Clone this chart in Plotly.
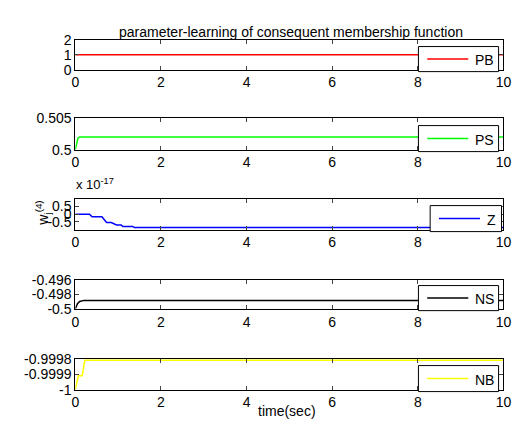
import plotly.graph_objects as go

# Consequent weights w_j^(4) for the five fuzzy terms over the learning run
t_pb = [0, 10]
w_pb = [1, 1]

t_ps = [0, 0.03, 0.06, 0.1, 10]
w_ps = [0.5, 0.5012, 0.5018, 0.502, 0.502]

# Z weight, in units of 1e-17
t_z = [0, 0.33, 0.39, 0.62, 0.73, 0.84, 0.96, 1.07, 1.11, 1.34, 1.38, 10]
w_z_e17 = [0, 0, -0.17, -0.17, -0.54, -0.54, -0.69, -0.69, -0.79, -0.79, -0.86, -0.86]

t_ns = [0, 0.05, 0.1, 0.2, 10]
w_ns = [-0.5, -0.4993, -0.4990, -0.49885, -0.49885]

t_nb = [0, 0.03, 0.07, 0.16, 0.22, 10]
w_nb = [-1, -0.99996, -0.99991, -0.99991, -0.99981, -0.99981]

names = ["PB", "PS", "Z", "NS", "NB"]
colors = ["#ff0000", "#00ff00", "#0000ff", "#000000", "#ffff00"]
series = [(t_pb, w_pb), (t_ps, w_ps), (t_z, w_z_e17), (t_ns, w_ns), (t_nb, w_nb)]

x_ticks = [0, 2, 4, 6, 8, 10]
y_ranges = [[0, 2], [0.5, 0.505], [-1, 1], [-0.5, -0.496], [-1, -0.9998]]
y_tickvals = [[0, 1, 2], [0.5, 0.505], [-0.5, 0, 0.5], [-0.5, -0.498, -0.496],
              [-1, -0.9999, -0.9998]]
y_ticktext = [["0", "1", "2"], ["0.5", "0.505"], ["-0.5", "0", "0.5"],
              ["-0.5", "-0.498", "-0.496"], ["-1", "-0.9999", "-0.9998"]]

W, H = 532, 442
# panel extents in pixels (top, bottom)
panels = [(33, 64), (114, 147), (198, 230), (282, 312), (364, 396)]
# legend boxes in pixels (left, top, right, bottom)
legend_boxes = [(424, 40, 506, 66), (424, 122, 506, 149), (436, 205, 509, 232),
                (424, 288, 506, 314), (424, 371, 506, 398)]
x_left, x_right = 73, 511

FONT = "Liberation Sans, Arial, sans-serif"


def px(x):
    return x / W


def py(y):
    return 1 - y / H


fig = go.Figure()
layout = dict(
    width=W, height=H,
    margin=dict(l=0, r=0, t=0, b=0),
    paper_bgcolor="white", plot_bgcolor="white",
    font=dict(family=FONT, size=14, color="black"),
    showlegend=False,
)
shapes = []
annotations = []

for i, ((tx, wy), name, col) in enumerate(zip(series, names, colors)):
    k = "" if i == 0 else str(i + 1)
    fig.add_trace(go.Scatter(
        x=tx, y=wy, mode="lines", name=name,
        line=dict(color=col, width=1.5),
        xaxis=f"x{k}", yaxis=f"y{k}",
    ))
    top, bot = panels[i]
    layout[f"xaxis{k}"] = dict(
        domain=[px(x_left), px(x_right)], anchor=f"y{k}",
        range=[0, 10], tickvals=x_ticks, ticks="inside", ticklen=4,
        showline=True, linecolor="black", linewidth=1, mirror="allticks",
        showgrid=False, zeroline=False, tickfont=dict(size=14),
    )
    layout[f"yaxis{k}"] = dict(
        domain=[py(bot), py(top)], anchor=f"x{k}",
        range=y_ranges[i], tickvals=y_tickvals[i], ticktext=y_ticktext[i],
        ticks="inside", ticklen=4,
        showline=True, linecolor="black", linewidth=1, mirror="allticks",
        showgrid=False, zeroline=False, tickfont=dict(size=14),
    )
    # per-panel legend: framed box, line sample and label
    l, t, r, b = legend_boxes[i]
    ym = (t + b) / 2
    shapes.append(dict(type="rect", xref="paper", yref="paper",
                       x0=px(l), x1=px(r), y0=py(b), y1=py(t),
                       fillcolor="white", line=dict(color="black", width=1),
                       layer="above"))
    shapes.append(dict(type="line", xref="paper", yref="paper",
                       x0=px(l + 9), x1=px(l + 51), y0=py(ym), y1=py(ym),
                       line=dict(color=col, width=1.5), layer="above"))
    annotations.append(dict(text=name, x=px(l + 56), y=py(ym + 1),
                            xref="paper", yref="paper", xanchor="left",
                            yanchor="middle", showarrow=False,
                            font=dict(size=14)))

annotations += [
    dict(text="parameter-learning of consequent membership function",
         x=px(294), y=py(15), xref="paper", yref="paper",
         showarrow=False, font=dict(size=14)),
    dict(text="time(sec)", x=px(290), y=py(428), xref="paper", yref="paper",
         showarrow=False, font=dict(size=14)),
    dict(text="x 10<sup>-17</sup>", x=px(72), y=py(183), xref="paper",
         yref="paper", xanchor="left", showarrow=False, font=dict(size=13)),
    dict(text="w<sub>j</sub><sup>(4)</sup>", x=px(28), y=py(213),
         xref="paper", yref="paper", textangle=-90, showarrow=False,
         font=dict(size=14)),
]

layout["shapes"] = shapes
layout["annotations"] = annotations
fig.update_layout(**layout)
fig.write_html("out.html")
